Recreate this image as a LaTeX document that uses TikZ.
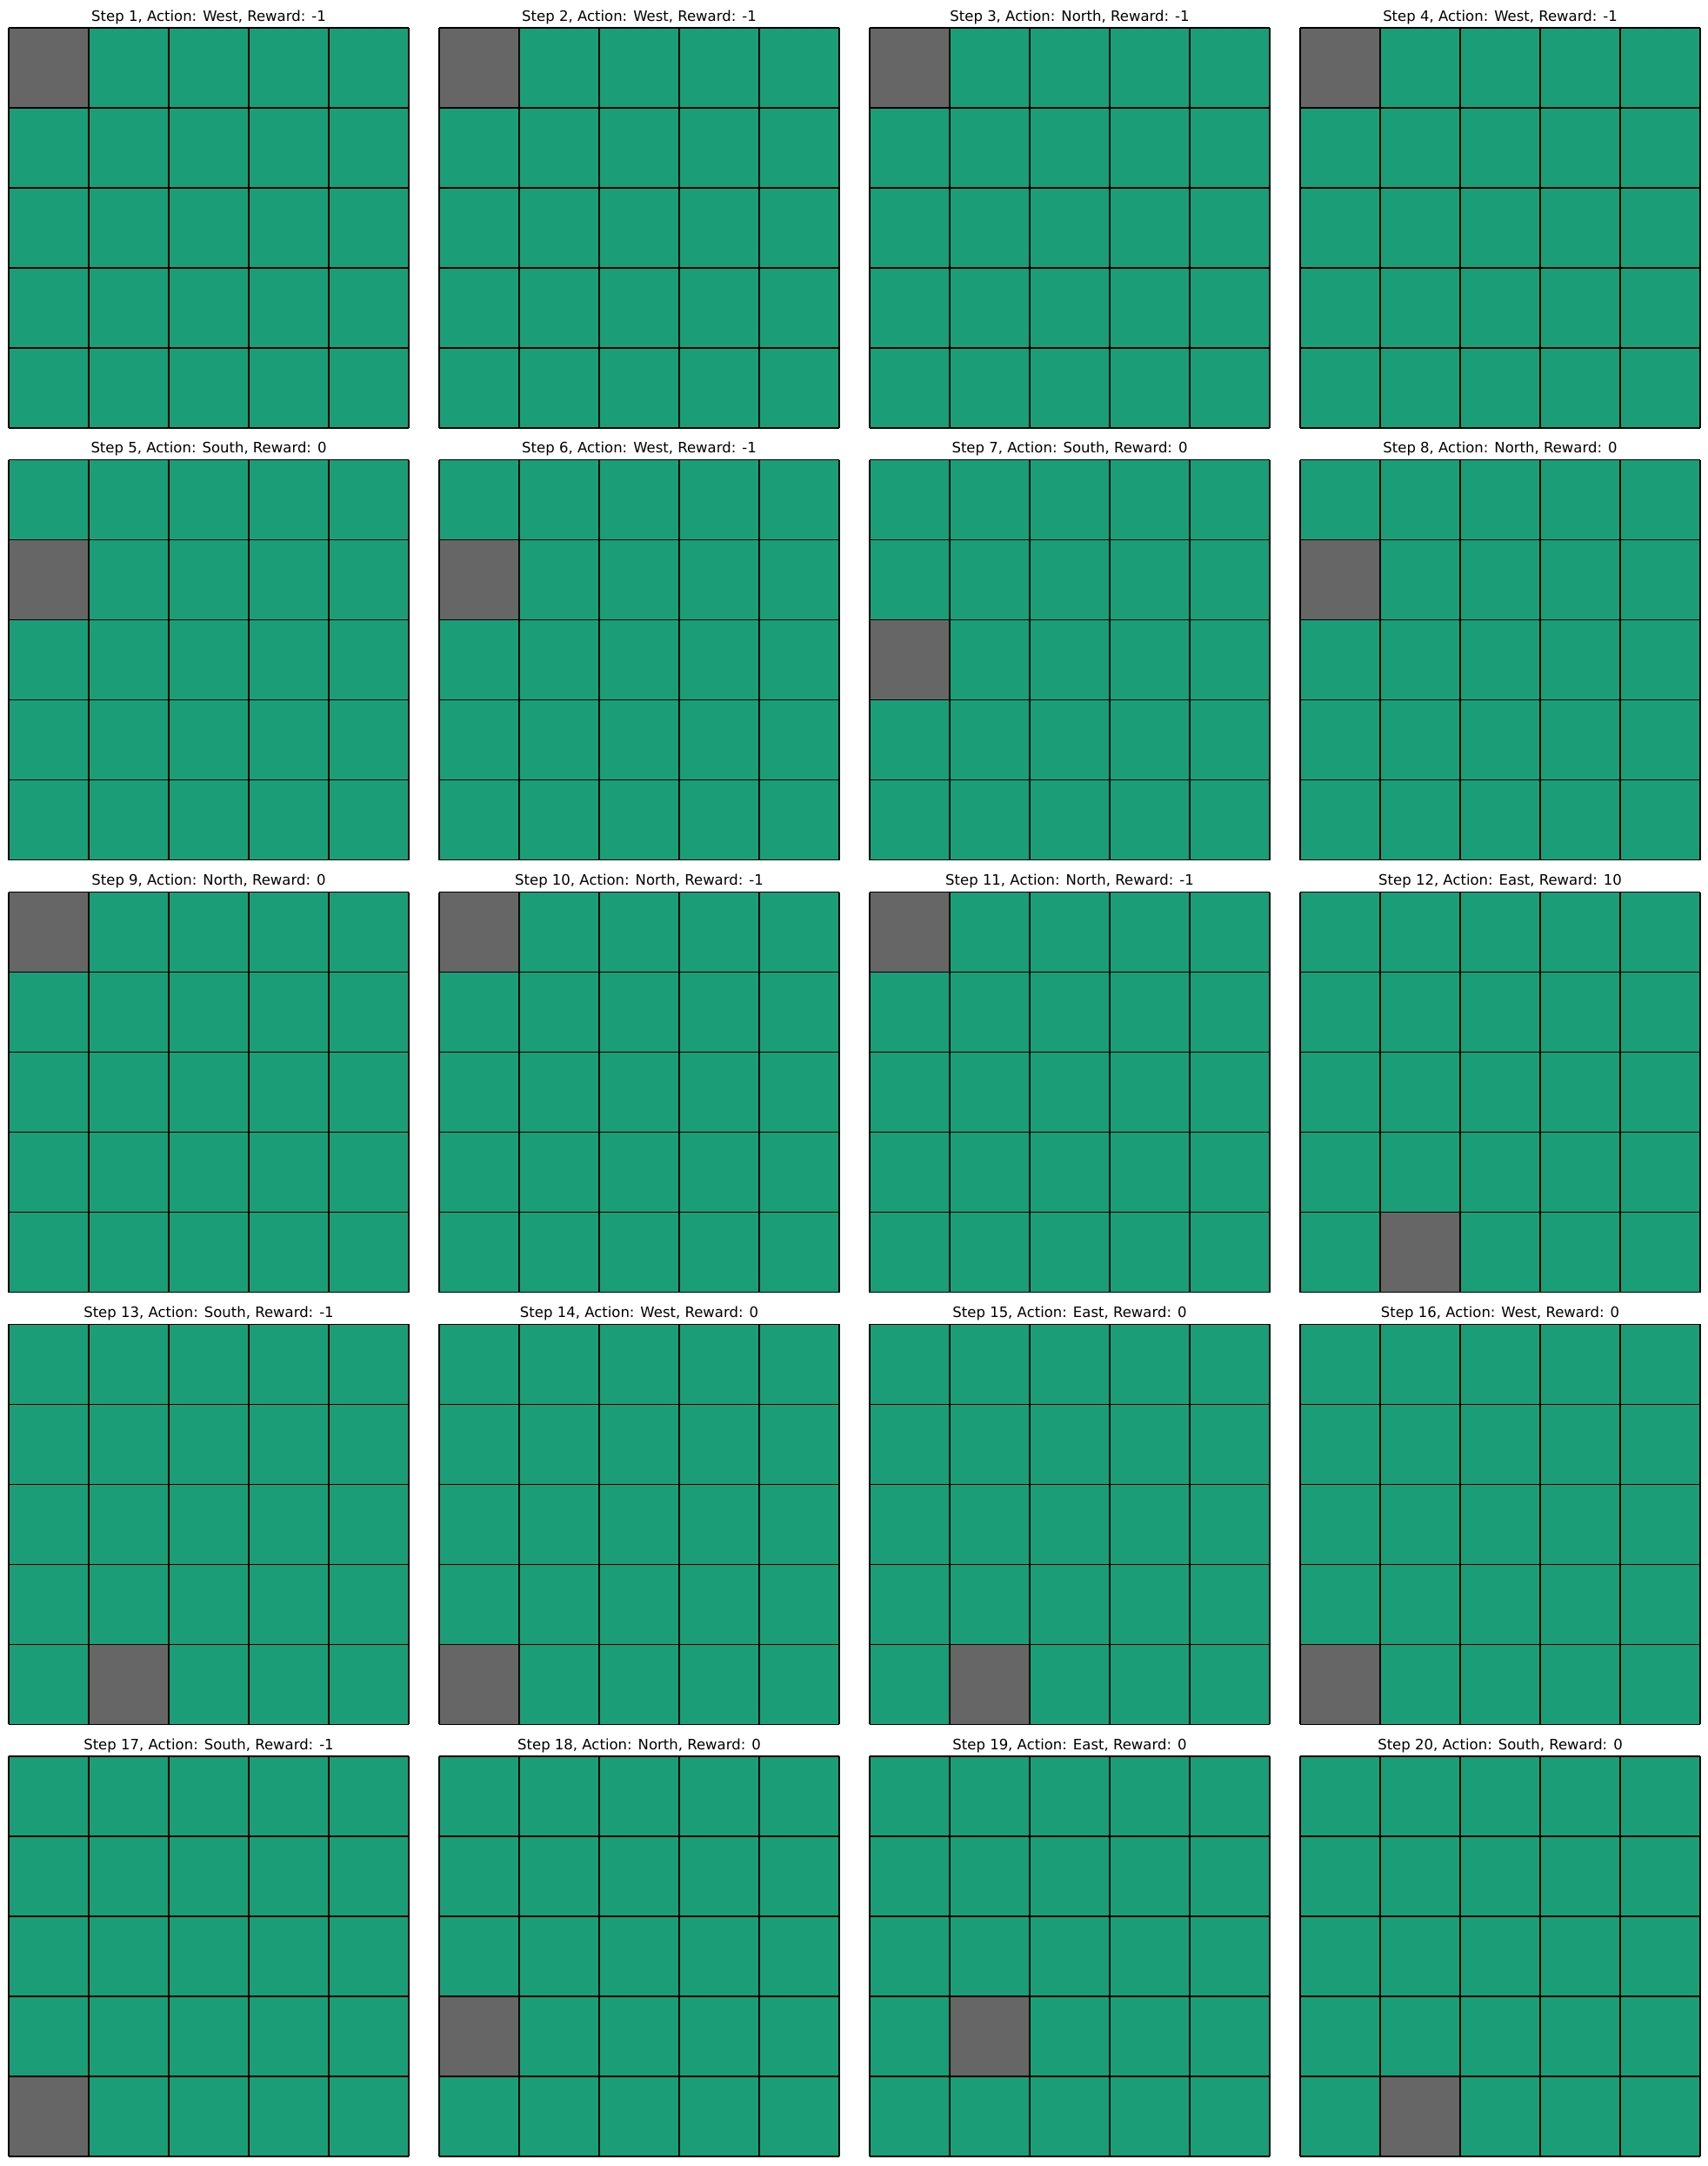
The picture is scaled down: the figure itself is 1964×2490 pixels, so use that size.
\documentclass[tikz,border=0pt]{standalone}
\usepackage{fontspec}
\setmainfont{DejaVu Sans}
\usepackage{tikz}
\definecolor{tile}{RGB}{27,158,119}
\definecolor{agent}{RGB}{102,102,102}

\begin{document}
\begin{tikzpicture}[
  x=1pt, y=-1pt,
  font=\fontsize{16.5}{20}\selectfont,
  board/.style={fill=tile},
  agentcell/.style={fill=agent},
  gridline/.style={draw=black, line width=1.3pt},
  title/.style={anchor=base, inner sep=0pt}
]
\useasboundingbox (0,0) rectangle (1964,2490);
% one panel per step: step/action/reward/agent row/agent column
\foreach \n/\act/\rew/\r/\c [count=\i from 0] in {
    1/West/-1/0/0, 2/West/-1/0/0, 3/North/-1/0/0, 4/West/-1/0/0,
    5/South/0/1/0, 6/West/-1/1/0, 7/South/0/2/0, 8/North/0/1/0,
    9/North/0/0/0, 10/North/-1/0/0, 11/North/-1/0/0, 12/East/10/4/1,
    13/South/-1/4/1, 14/West/0/4/0, 15/East/0/4/1, 16/West/0/4/0,
    17/South/-1/4/0, 18/North/0/3/0, 19/East/0/3/1, 20/South/0/4/1} {
  \pgfmathsetmacro{\px}{10+495*mod(\i,4)}
  \pgfmathsetmacro{\py}{32+496.75*floor(\i/4)}
  \fill[board] (\px,\py) rectangle ++(460,460);
  \fill[agentcell] (\px+92*\c,\py+92*\r) rectangle ++(92,92);
  \foreach \k in {0,...,5} {
    \draw[gridline] (\px+92*\k,\py) -- ++(0,460);
    \draw[gridline] (\px,\py+92*\k) -- ++(460,0);
  }
  \node[title] (t\n) at (\px+230,\py-8) {Step \n, Action: \act, Reward: \rew};
}
\end{tikzpicture}
\end{document}
